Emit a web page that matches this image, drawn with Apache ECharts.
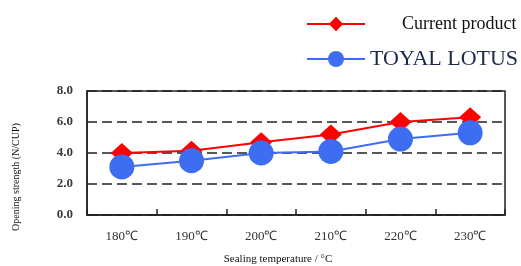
<!DOCTYPE html>
<html>
<head>
<meta charset="utf-8">
<script src="https://cdn.jsdelivr.net/npm/echarts@6/dist/echarts.min.js"></script>
<style>
  html, body { margin: 0; padding: 0; background: #fff; }
  #chart { width: 521px; height: 266px; }
</style>
</head>
<body>
<div id="chart"></div>
<script>
const categories = ['180℃', '190℃', '200℃', '210℃', '220℃', '230℃']
const currentProduct = [4.0, 4.15, 4.7, 5.2, 6.0, 6.3]
const toyalLotus = [3.1, 3.5, 4.0, 4.1, 4.9, 5.3]
const yTicks = [0, 2, 4, 6, 8]

const serif = '"Liberation Serif", "Times New Roman", serif'

const myChart = echarts.init(document.getElementById('chart'))
const option = {
  animation: false,
  legend: [
    {
      data: ['Current product'],
      left: 301,
      top: 10,
      itemWidth: 58,
      itemHeight: 18,
      textStyle: { fontFamily: serif, fontSize: 18, color: '#111', padding: [0, 0, 0, 32] }
    },
    {
      data: ['TOYAL LOTUS'],
      left: 301,
      top: 43,
      itemWidth: 58,
      itemHeight: 20,
      textStyle: { fontFamily: serif, fontSize: 22, color: '#1a2a4a', padding: [0, 0, 0, 0] }
    }
  ],
  grid: {
    left: 87,
    right: 16,
    top: 91,
    bottom: 49,
    show: true,
    borderColor: '#222',
    borderWidth: 1.5
  },
  xAxis: {
    type: 'category',
    data: categories,
    boundaryGap: true,
    name: 'Sealing temperature / °C',
    nameLocation: 'middle',
    nameGap: 39,
    nameTextStyle: { fontFamily: serif, fontSize: 11, color: '#111', padding: [0, 36, 0, 0] },
    axisLine: { lineStyle: { color: '#222', width: 1.5 } },
    axisTick: { show: true, inside: true, length: 6, lineStyle: { color: '#222', width: 1.5 } },
    axisLabel: { fontFamily: serif, fontSize: 13, color: '#333', margin: 15, interval: 0 },
    splitLine: { show: false }
  },
  yAxis: {
    type: 'value',
    min: yTicks[0],
    max: yTicks[yTicks.length - 1],
    interval: 2,
    name: 'Opening strength (N/CUP)',
    nameLocation: 'middle',
    nameGap: 66,
    nameTextStyle: { fontFamily: serif, fontSize: 10, color: '#111', padding: [0, 48, 0, 0] },
    axisLine: { show: true, lineStyle: { color: '#222', width: 1.5 } },
    axisTick: { show: false },
    axisLabel: {
      fontFamily: serif,
      fontSize: 13,
      fontWeight: 'bold',
      color: '#3a3a3a',
      margin: 14,
      formatter: v => v.toFixed(1)
    },
    splitLine: { show: true, lineStyle: { color: '#222', type: [10, 5], width: 1.6 } }
  },
  series: [
    {
      name: 'Current product',
      type: 'line',
      data: currentProduct,
      symbol: 'diamond',
      symbolSize: [22, 20],
      itemStyle: { color: '#ff0000' },
      lineStyle: { color: '#ff0000', width: 2 },
      z: 2
    },
    {
      name: 'TOYAL LOTUS',
      type: 'line',
      data: toyalLotus,
      symbol: 'circle',
      symbolSize: 25,
      itemStyle: { color: '#3d6ef2' },
      lineStyle: { color: '#3d6ef2', width: 2 },
      z: 3
    }
  ]
}
myChart.setOption(option)
window.addEventListener('resize', function () {
  myChart.resize()
})
</script>
</body>
</html>
